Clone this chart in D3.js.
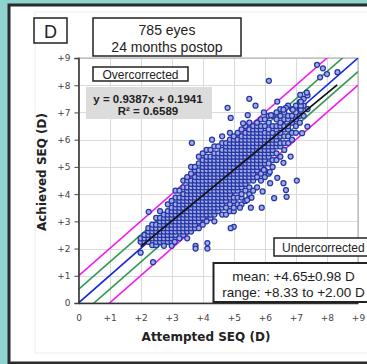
<!DOCTYPE html>
<html lang="en">
<head>
<meta charset="UTF-8">
<title>Achieved vs attempted SEQ</title>
<style>
  body { margin: 0; background: #8fd3cf; }
  svg { display: block; }
  .axis text { font: 9px "DejaVu Sans", sans-serif; fill: #444; }
  .axis line { stroke: #444; }
  .grid line { stroke: #dadada; stroke-width: 1px; shape-rendering: crispEdges; }
  .label { font: bold 12px "DejaVu Sans", sans-serif; fill: #222; }
  .box { fill: #fff; stroke: #222; stroke-width: 1.5px; }
  .txt { font-family: "Liberation Sans", Arial, sans-serif; fill: #222; text-anchor: middle; }
</style>
</head>
<body>
<svg width="367" height="364"></svg>
<script src="https://cdn.jsdelivr.net/npm/d3@7"></script>
<script>
// tick values / labels (D)
var tickVals = [0, 1, 2, 3, 4, 5, 6, 7, 8, 9];
var tickLabels = ["0", "+1", "+2", "+3", "+4", "+5", "+6", "+7", "+8", "+9"];

// dense part of the cloud: attempted SEQ in 1/8 D, achieved SEQ values in 1/8 D
var colAttempted8 = [16, 17, 18, 19, 20, 21, 22, 23, 24, 25, 26, 27, 28, 29, 30, 31, 32, 33, 34, 35,
  36, 37, 38, 39, 40, 41, 42, 43, 44, 45, 46, 47, 48, 49, 50, 51, 52, 53, 54, 55, 56, 57, 58, 59];
var colAchieved8 = [
  [18, 19],
  [18, 19, 20],
  [18, 19, 20, 21, 22],
  [17, 19, 20, 21, 22, 23],
  [17, 18, 19, 20, 21, 22, 23, 25],
  [18, 19, 20, 21, 22, 23, 24, 25, 27],
  [18, 19, 20, 21, 22, 23, 24, 25, 26],
  [18, 19, 20, 21, 22, 23, 24, 25, 26, 27, 29],
  [18, 19, 20, 21, 22, 23, 24, 25, 26, 27, 28, 30],
  [19, 20, 21, 22, 23, 24, 25, 26, 27, 28, 29, 31, 33],
  [19, 21, 22, 23, 24, 25, 26, 27, 28, 29, 30, 31, 33],
  [20, 21, 22, 23, 24, 25, 26, 27, 28, 29, 30, 31, 32, 34, 36],
  [19, 21, 22, 23, 24, 25, 26, 27, 28, 29, 30, 31, 32, 33, 34, 36, 37],
  [21, 22, 23, 24, 25, 26, 27, 28, 29, 30, 31, 32, 33, 34, 35, 36, 38, 40],
  [22, 23, 24, 25, 26, 27, 28, 29, 30, 31, 32, 33, 34, 35, 36, 37, 39, 40],
  [22, 24, 25, 26, 27, 28, 29, 30, 31, 32, 33, 34, 35, 36, 37, 38, 39, 41, 43],
  [23, 25, 26, 27, 28, 29, 30, 31, 32, 33, 34, 35, 36, 37, 38, 39, 40, 41, 42, 44],
  [24, 26, 27, 28, 29, 30, 31, 32, 33, 34, 35, 36, 37, 38, 39, 40, 41, 42, 43, 45],
  [25, 26, 27, 28, 29, 30, 31, 32, 33, 34, 35, 36, 37, 38, 39, 40, 41, 42, 43, 45],
  [24, 26, 27, 28, 29, 30, 31, 32, 33, 34, 35, 36, 37, 38, 39, 40, 41, 42, 43, 44, 46],
  [27, 28, 29, 30, 31, 32, 33, 34, 35, 36, 37, 38, 39, 40, 41, 42, 43, 44, 46],
  [26, 28, 29, 30, 31, 32, 33, 34, 35, 36, 37, 38, 39, 40, 41, 42, 43, 44, 45, 47, 49],
  [26, 28, 30, 31, 32, 33, 34, 35, 36, 37, 38, 39, 40, 41, 42, 43, 44, 45, 46, 47],
  [27, 29, 31, 32, 33, 34, 35, 36, 37, 38, 39, 40, 41, 42, 43, 44, 45, 46, 47, 48, 50],
  [27, 28, 30, 31, 33, 34, 35, 36, 37, 38, 39, 40, 41, 42, 43, 44, 45, 46, 47, 48, 49],
  [29, 31, 33, 34, 35, 36, 37, 38, 39, 40, 41, 42, 43, 44, 45, 46, 47, 48, 50],
  [29, 31, 32, 34, 35, 36, 37, 38, 39, 40, 41, 42, 43, 44, 45, 46, 47, 48, 49, 51],
  [30, 33, 35, 36, 37, 38, 39, 40, 41, 42, 43, 44, 45, 46, 47, 48, 49, 50, 52],
  [31, 32, 34, 36, 37, 38, 39, 40, 41, 42, 43, 44, 45, 46, 47, 48, 49, 50, 51, 53],
  [33, 36, 37, 38, 39, 40, 41, 42, 43, 44, 45, 46, 47, 48, 49, 50, 51, 52],
  [34, 37, 39, 40, 41, 42, 43, 44, 45, 46, 47, 48, 49, 50, 51, 52, 53],
  [36, 38, 40, 41, 42, 43, 44, 45, 46, 47, 48, 49, 50, 51, 52, 54],
  [37, 39, 41, 42, 43, 44, 45, 46, 47, 48, 49, 50, 52, 54],
  [38, 41, 43, 44, 45, 46, 47, 48, 49, 50, 51, 53, 55],
  [40, 42, 44, 45, 46, 47, 48, 49, 50, 52, 55],
  [42, 44, 46, 47, 48, 49, 51, 52, 54, 56],
  [43, 46, 47, 49, 50, 52, 53, 55, 57],
  [45, 47, 49, 51, 52, 54, 56],
  [47, 49, 51, 52, 54, 55, 58],
  [48, 50, 53, 55, 57],
  [50, 52, 54, 56, 58],
  [53, 55, 57, 59],
  [55, 58, 60],
  [57, 61]
];

// scattered eyes away from the main cloud [attempted, achieved] (D)
var outlierPts = [
  [7.68, 8.75], [7.87, 8.62], [7.78, 8.29], [8.0, 8.41], [8.34, 8.48], [7.35, 7.73], [7.14, 7.65],
  [6.13, 8.16], [5.5, 7.5], [4.8, 7.17], [5.7, 7.25], [5.45, 6.9], [4.9, 6.8], [6.4, 7.4],
  [6.68, 7.17], [5.3, 6.6], [3.65, 5.88], [4.3, 6.0], [2.26, 3.35], [7.16, 7.1], [7.16, 7.25],
  [7.16, 7.4], [6.9, 7.1], [6.6, 7.1], [6.2, 6.9], [5.97, 7.0], [7.2, 6.24], [7.37, 6.48],
  [7.03, 4.5], [6.3, 3.85], [5.55, 3.5], [5.9, 3.5], [5.93, 4.1], [6.17, 4.4], [6.4, 4.6],
  [6.68, 4.15], [6.7, 3.9], [6.6, 4.4], [5.0, 2.8], [4.9, 2.75], [5.57, 3.87], [5.2, 3.5],
  [5.43, 3.78], [6.16, 4.82], [5.97, 4.89], [6.6, 5.15], [6.83, 5.38],
  [2.0, 1.85], [2.4, 1.5], [2.75, 2.1], [3.0, 2.1], [3.1, 2.25], [3.77, 2.1], [3.77, 2.0],
  [4.15, 2.2], [4.15, 2.0]
];

// reference lines y = x + offset
var lineOffsets = [1, 0.5, 0, -0.5, -1];
var lineColors = ["#f01ef0", "#2f9a52", "#1428e0", "#2f9a52", "#f01ef0"];

// regression
var regSlope = 0.9387, regIntercept = 0.1941, regFrom = 2.0, regTo = 8.33;

var svg = d3.select("svg");

// white panel with dark frame
svg.append("rect")
    .attr("x", 9).attr("y", 5)
    .attr("width", 372).attr("height", 358)
    .attr("fill", "#fff")
    .attr("stroke", "#2b2b2b")
    .attr("stroke-width", 3);
svg.append("rect")
    .attr("x", 35).attr("y", 12)
    .attr("width", 345).attr("height", 341)
    .attr("fill", "none")
    .attr("stroke", "#eeeeee");

var x = d3.scaleLinear().domain([0, 9]).range([78.5, 358]);
var y = d3.scaleLinear().domain([0, 9]).range([303, 58]);

// grid
var grid = svg.append("g").attr("class", "grid");
grid.selectAll(".gx").data(tickVals).enter().append("line")
    .attr("x1", function(d) { return Math.round(x(d)) + 0.5; })
    .attr("x2", function(d) { return Math.round(x(d)) + 0.5; })
    .attr("y1", y(0)).attr("y2", y(9));
grid.selectAll(".gy").data(tickVals).enter().append("line")
    .attr("y1", function(d) { return Math.round(y(d)) + 0.5; })
    .attr("y2", function(d) { return Math.round(y(d)) + 0.5; })
    .attr("x1", x(0)).attr("x2", x(9));

// plot frame (top/right grey)
svg.append("rect")
    .attr("x", x(0)).attr("y", y(9))
    .attr("width", x(9) - x(0)).attr("height", y(0) - y(9))
    .attr("fill", "none").attr("stroke", "#a8a8a8");

// reference lines, clipped to plot (under the points)
var defs = svg.append("defs");
defs.append("clipPath").attr("id", "plotclip")
  .append("rect")
    .attr("x", x(0)).attr("y", y(9))
    .attr("width", x(9) - x(0)).attr("height", y(0) - y(9));

var lines = svg.append("g").attr("clip-path", "url(#plotclip)");
lineOffsets.forEach(function(off, i) {
  lines.append("line")
      .attr("x1", x(0)).attr("y1", y(0 + off))
      .attr("x2", x(9)).attr("y2", y(9 + off))
      .attr("stroke", lineColors[i])
      .attr("stroke-width", 1.6);
});

// axes
svg.append("g")
    .attr("class", "axis")
    .attr("transform", "translate(" + x(0) + ",0)")
    .call(d3.axisLeft(y).tickValues(tickVals).tickSize(4).tickPadding(4)
      .tickFormat(function(d, i) { return tickLabels[i]; }))
    .select(".domain").attr("stroke", "#333").attr("stroke-width", 1.5);

svg.append("g")
    .attr("class", "axis")
    .attr("transform", "translate(0," + y(0) + ")")
    .call(d3.axisBottom(x).tickValues(tickVals).tickSize(0).tickPadding(12)
      .tickFormat(function(d, i) { return tickLabels[i]; }))
    .select(".domain").attr("stroke", "#333").attr("stroke-width", 1.5);

// points
var pts = [];
colAttempted8.forEach(function(a8, i) {
  colAchieved8[i].forEach(function(y8) { pts.push([a8 / 8, y8 / 8]); });
});
outlierPts.forEach(function(p) { pts.push(p); });

svg.append("g").selectAll("circle")
    .data(pts).enter().append("circle")
    .attr("cx", function(d) { return x(d[0]); })
    .attr("cy", function(d) { return y(d[1]); })
    .attr("r", 2.5)
    .attr("fill", "#a3abe2")
    .attr("stroke", "#2336a6")
    .attr("stroke-width", 1.25);

// regression line on top
svg.append("line")
    .attr("clip-path", "url(#plotclip)")
    .attr("x1", x(regFrom)).attr("y1", y(regSlope * regFrom + regIntercept))
    .attr("x2", x(regTo)).attr("y2", y(regSlope * regTo + regIntercept))
    .attr("stroke", "#111")
    .attr("stroke-width", 1.8);

// axis titles
svg.append("text")
    .attr("class", "label")
    .attr("x", 206).attr("y", 341)
    .attr("text-anchor", "middle")
    .text("Attempted SEQ (D)");
svg.append("text")
    .attr("class", "label")
    .attr("transform", "translate(46,172) rotate(-90)")
    .attr("text-anchor", "middle")
    .text("Achieved SEQ (D)");

// panel letter
svg.append("rect").attr("class", "box").attr("x", 34).attr("y", 18).attr("width", 33).attr("height", 25);
svg.append("text").attr("class", "txt").attr("x", 50.5).attr("y", 37.5)
    .style("font-size", "18px").text("D");

// title box
svg.append("rect").attr("class", "box").attr("x", 93).attr("y", 18).attr("width", 148).attr("height", 38);
svg.append("text").attr("class", "txt").attr("x", 167).attr("y", 35)
    .style("font-size", "14px").text("785 eyes");
svg.append("text").attr("class", "txt").attr("x", 167).attr("y", 52)
    .style("font-size", "14px").text("24 months postop");

// overcorrected
svg.append("rect").attr("class", "box").attr("x", 93).attr("y", 67).attr("width", 95).attr("height", 14);
svg.append("text").attr("class", "txt").attr("x", 140.5).attr("y", 78.5)
    .style("font-size", "12px").text("Overcorrected");

// regression equation
svg.append("rect").attr("x", 86).attr("y", 87).attr("width", 126).attr("height", 32).attr("fill", "#dcdcdc");
svg.append("text").attr("class", "txt").attr("x", 148).attr("y", 102.5)
    .style("font-size", "11.5px").style("font-weight", "bold")
    .text("y = 0.9387x + 0.1941");
svg.append("text").attr("class", "txt").attr("x", 148).attr("y", 115)
    .style("font-size", "11.5px").style("font-weight", "bold")
    .text("R\u00b2 = 0.6589");

// undercorrected
svg.append("rect").attr("class", "box").attr("x", 274).attr("y", 238).attr("width", 100).attr("height", 18);
svg.append("text").attr("class", "txt").attr("x", 282).attr("y", 251.5)
    .style("font-size", "12px").style("text-anchor", "start").text("Undercorrected");

// mean / range
svg.append("rect").attr("class", "box").attr("x", 213.5).attr("y", 263).attr("width", 170).attr("height", 39)
    .style("stroke-width", "2px");
svg.append("text").attr("class", "txt").attr("x", 293.5).attr("y", 281)
    .style("font-size", "13.5px").text("mean: +4.65\u00b10.98 D");
svg.append("text").attr("class", "txt").attr("x", 293.5).attr("y", 296.5)
    .style("font-size", "13.5px").text("range: +8.33 to +2.00 D");
</script>
</body>
</html>
